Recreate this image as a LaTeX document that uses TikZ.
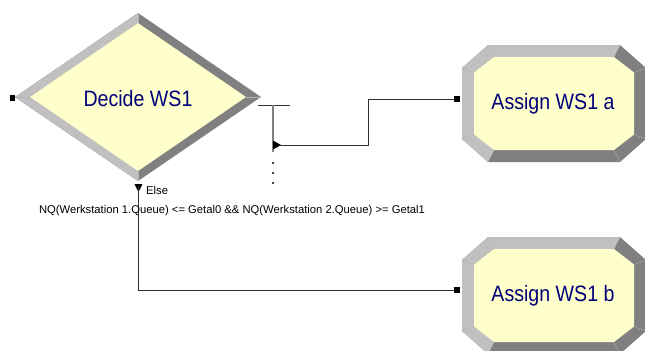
\documentclass[tikz,border=0pt]{standalone}
\usepackage{fontspec}
\setmainfont{Liberation Sans}
\usepackage{xcolor}
\usepackage{tikz}
\usetikzlibrary{arrows.meta,positioning,calc}
\definecolor{modnavy}{RGB}{0,0,120}
\definecolor{modfill}{RGB}{255,255,204}
\definecolor{bevlight}{RGB}{192,192,192}
\definecolor{bevdark}{RGB}{128,128,128}
\definecolor{linkgray}{RGB}{48,48,48}

\tikzset{
  modtext/.style={font=\fontsize{19}{22}\selectfont, text=modnavy, inner sep=0pt, xscale=0.88},
  smalltext/.style={font=\fontsize{9.6}{11}\selectfont, text=black, inner sep=0pt},
  entrypt/.style={rectangle, fill=black, inner sep=0pt, minimum size=4.3pt},
  link/.style={linkgray, line width=0.7pt},
  stub/.style={bevdark, line width=1pt}
}

% bevelled assign block: name, x, y, text
\newcommand{\assignblock}[4]{%
  \begin{scope}[shift={(#2,#3)}]
    \fill[bevdark] (-66,-58.5) -- (66,-58.5) -- (92,-35.5) -- (92,35.5)
      -- (66,58.5) -- (-66,58.5) -- (-92,35.5) -- (-92,-35.5) -- cycle;
    \fill[bevlight] (66,-58.5) -- (-66,-58.5) -- (-92,-35.5) -- (-92,35.5)
      -- (-66,58.5) -- (-60,46.5) -- (-80,31) -- (-80,-31) -- (-60,-46.5)
      -- (60,-46.5) -- cycle;
    \fill[modfill] (-60,-46.5) -- (60,-46.5) -- (80,-31) -- (80,31)
      -- (60,46.5) -- (-60,46.5) -- (-80,31) -- (-80,-31) -- cycle;
    \draw[gray!60, line width=0.3pt] (-66,-58.5) -- (-60,-46.5) (66,-58.5) -- (60,-46.5)
      (92,-35.5) -- (80,-31) (92,35.5) -- (80,31) (66,58.5) -- (60,46.5)
      (-66,58.5) -- (-60,46.5) (-92,35.5) -- (-80,31) (-92,-35.5) -- (-80,-31);
    \node[modtext] (#1) at (-1,0) {#4};
  \end{scope}}

\begin{document}
\begin{tikzpicture}[x=0.03cm, y=-0.03cm]
\useasboundingbox (0,0) rectangle (645,350);

% 1. Decide block
\begin{scope}[shift={(138,97)}]
  \fill[bevdark] (0,-84) -- (123,0) -- (0,84) -- (-123,0) -- cycle;
  \fill[bevlight] (0,-84) -- (-123,0) -- (0,84) -- (0,74) -- (-108,0) -- (0,-74) -- cycle;
  \fill[modfill] (0,-74) -- (108,0) -- (0,74) -- (-108,0) -- cycle;
  \draw[gray!60, line width=0.3pt] (0,-84) -- (0,-74) (123,0) -- (108,0)
    (0,84) -- (0,74) (-123,0) -- (-108,0);
  \node[modtext] (decide) at (0,2) {Decide WS1};
\end{scope}
\node[entrypt] (decideIn) at (12.5,98) {};

% 2. Assign blocks
\assignblock{assignA}{554}{103.5}{Assign WS1 a}
\assignblock{assignB}{554}{295.5}{Assign WS1 b}
\node[entrypt] (assignAIn) at (457,99) {};
\node[entrypt] (assignBIn) at (457,290) {};

% 3. True branch
\coordinate (decideOut) at (258,105);
\coordinate (barEnd) at (290,105);
\coordinate (stubTop) at (273,105);
\coordinate (stubBot) at (273,152);
\coordinate (trueOut) at (280,145);
\draw[link] (decideOut) -- (barEnd);
\draw[stub] (stubTop) -- (stubBot);
\fill (273,140.5) -- (281,145) -- (273,149.5) -- cycle;
\draw[link] (trueOut) -- (368,145) |- (assignAIn);
\foreach \yy in {163,173,183}
  \fill (273,\yy) circle (0.9pt);

% 4. Else branch
\coordinate (elseOut) at (138.5,186);
\fill (134.5,184) -- (142.5,184) -- (138.5,192) -- cycle;
\node[smalltext, anchor=west] (elselbl) at (146,190) {Else};
\draw[link] (elseOut) |- (assignBIn);

% 5. Condition
\node[smalltext] (cond) at (232,211)
  {NQ(Werkstation 1.Queue) <= Getal0 \&\& NQ(Werkstation 2.Queue) >= Getal1};

\end{tikzpicture}
\end{document}
